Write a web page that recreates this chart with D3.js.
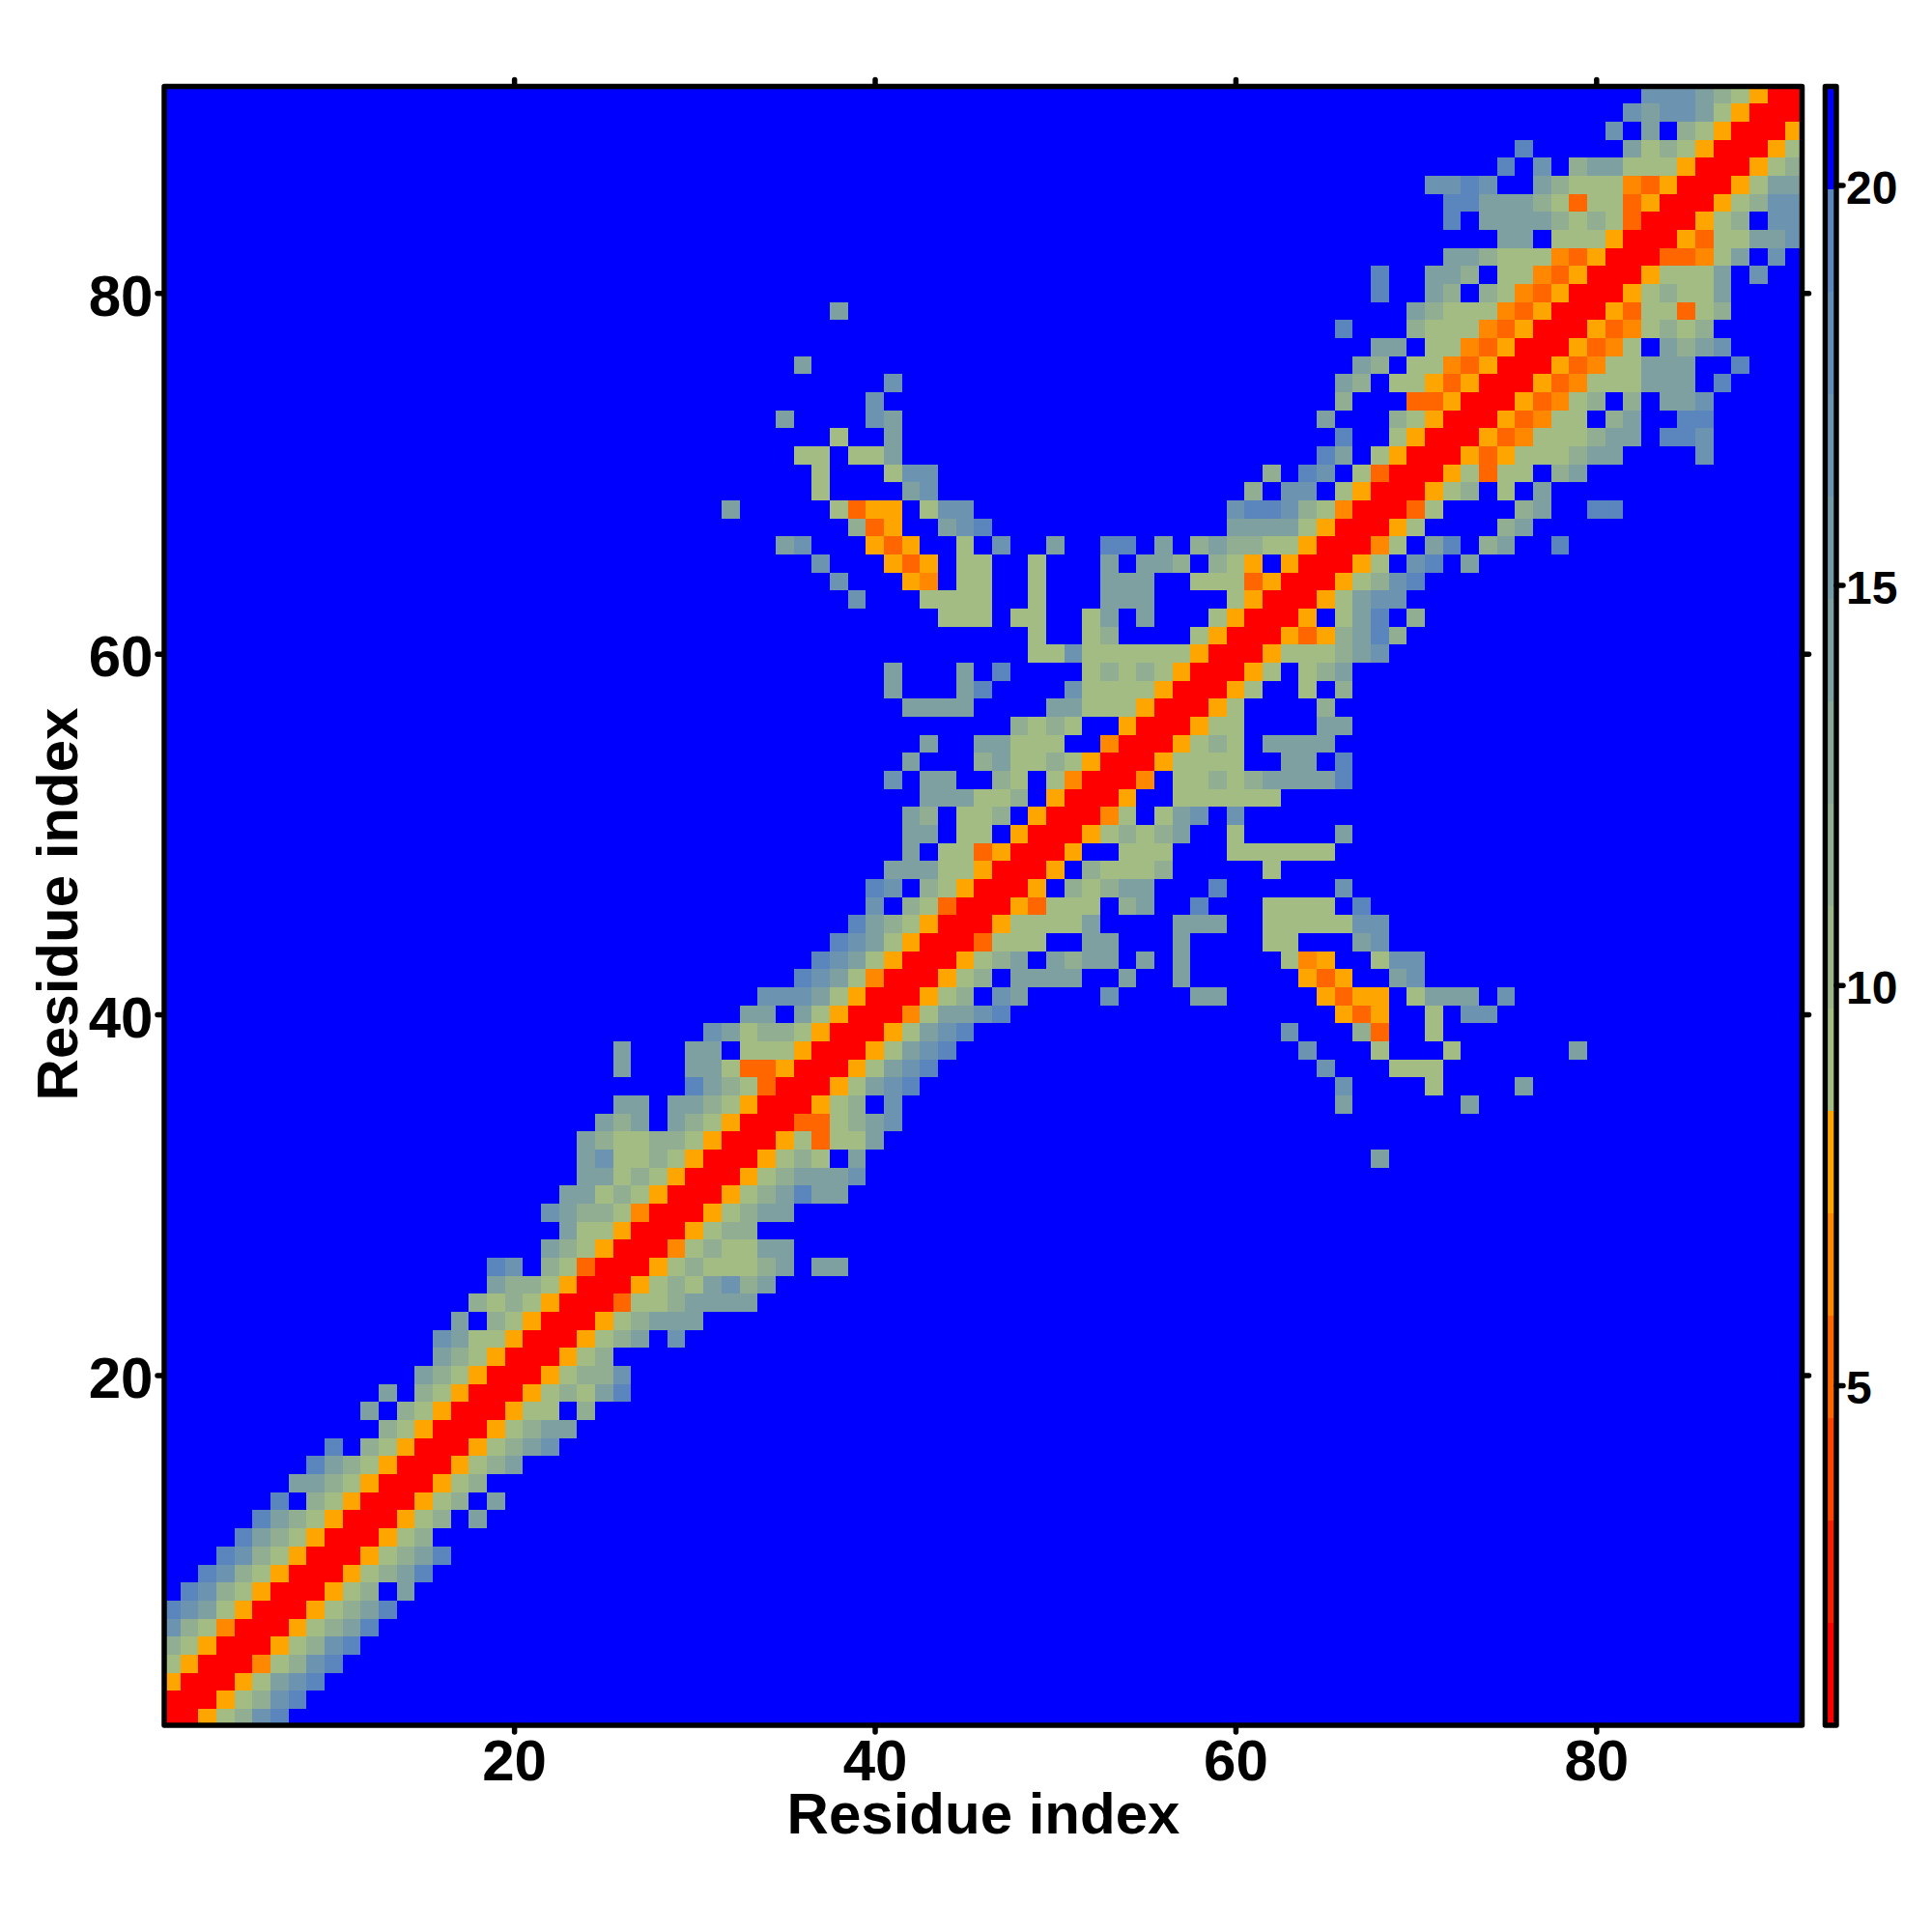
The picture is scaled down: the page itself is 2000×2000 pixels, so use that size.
<!DOCTYPE html>
<html><head><meta charset="utf-8">
<script src="https://cdn.jsdelivr.net/npm/d3@7"></script>
<style>html,body{margin:0;padding:0;background:#fff}svg{display:block}text{font-family:"Liberation Sans",Arial,sans-serif;font-weight:700;fill:#000}</style>
</head><body><div id="c"></div>
<script>
const residueCount = 91;
const xTicks = [20,40,60,80];
const yTicks = [20,40,60,80];
const colorTicks = [5,10,15,20];
const axisTitle = "Residue index";
// colour bins of the legend (lower edge of first bin, bin width)
const binEdges = [0.75,2.03,3.31,4.59,5.87,7.15,8.43,9.71,10.99,12.27,13.55,14.83,16.11,17.39,18.67,19.95,21.23];
const binColors = ["#ff0000","#f81e00","#ff4400","#ff6600","#ff8800","#ffa500","#a3bc83","#9ab58a","#91ae92","#88a799","#7ea0a0","#759aa7","#6c93af","#638cb6","#5a85bd","#0000ff"];
// estimated distance for each symbol used in the rows below
const codeValue = {r:1.4,d:5.2,o:6.5,a:7.8,"1":9.0,"2":11.5,"3":14.2,"4":17,"5":19.5,".":21};
// one string per residue i: symbols for columns i, i+1, ... (matrix is symmetric)
const bandRows = [
"rra1245","rra1245","rra1345","rro1245","rra1245","rra1235","rra1235","rra12.3","rra1235","rra1235",
"rra12","rra12.3","rra12.3","rra12","rra123","rra1234","rra1233","rra11.2","rra12135","rra1224",
"rra12","rra123.4","rra12333","rrd1123333","rra1213423","rra1211123.33","rro121133","rra122","rra1233","rra123533",
"rra123334","rra121.3","rra1d113","rrdd1234","rra12.4","rra1345","rra1345","rra1345","rra1345","rro13345",
"rra12.43","rra12.3333","rra123.323","rrd111..3","rra11113","rrad111.23..5...1111.5","rra.21233...5......4","rra.21112.....1","rra..111...111111","rra12123..1.....3",
"rro1.134.4","rra..111111","rro.1121233335","rra1111..33.5","rra121.3333","rra11....33","rra1....2","rra1..1.2","rra1.123","rra111234",
"rrada2352","rra.135.2","rra1344","rra1245","rra1.45.3","rro1.35.23..5","rra1....23","rrd1....23..55","rra12.1.3","rra1d11.23",
"rrada111233....4","rrado111233.554","rrado11.23..55","rrado12.2.334","rrado111333.5","rrado11333..5","rrado1.3234","rrado1212","rrad11d12","rra12113",
"rra1113.4","rrddo13.4","rrad11334","rra12.44","rra1244","rra133","rra12","rra1","rra","rr","r"];
// contacts far from the diagonal: row, column, symbol
const farContacts = [
[32,68,"3"],[35,66,"3"],[35,73,"3"],[36,66,"4"],[36,71,"1"],[36,76,"3"],[37,65,"4"],[37,69,"1"],[37,70,"1"],[37,71,"1"],
[38,64,"4"],[38,68,"1"],[38,72,"1"],[38,79,"3"],[39,63,"4"],[39,67,"2"],[39,68,"d"],[39,71,"1"],
[40,66,"a"],[40,67,"d"],[40,68,"a"],[40,71,"1"],[40,73,"4"],[40,74,"4"],
[41,53,"4"],[41,58,"3"],[41,59,"3"],[41,65,"a"],[41,66,"d"],[41,67,"a"],[41,68,"a"],[41,70,"1"],[41,71,"3"],[41,72,"3"],[41,73,"3"],[41,75,"4"],
[42,54,"3"],[42,57,"3"],[42,64,"a"],[42,65,"d"],[42,66,"a"],[42,69,"3"],[42,70,"4"],
[43,53,"3"],[43,55,"3"],[43,57,"3"],[43,63,"1"],[43,64,"o"],[43,65,"a"],[43,68,"1"],[43,69,"4"],[43,70,"4"],
[44,53,"3"],[44,57,"3"],[44,62,"1"],[44,63,"1"],[44,67,"3"],[44,68,"4"],
[45,57,"3"],[45,58,"3"],[45,59,"3"],[45,62,"1"],[45,63,"1"],[45,64,"1"],[45,65,"1"],[45,66,"1"],[45,67,"4"],[45,68,"4"]];

const margin = {left:170, right:1865.5, top:89.5, bottom:1786};
const svg = d3.select("#c").append("svg").attr("width",2000).attr("height",2000);
svg.append("rect").attr("width",2000).attr("height",2000).attr("fill","#fff");

const x = d3.scaleLinear().domain([1,residueCount]).range([177.4,1857.7]);
const y = d3.scaleLinear().domain([1,residueCount]).range([1778.2,97.9]);
const color = d3.scaleThreshold().domain(binEdges.slice(1,-1)).range(binColors);
const cby = d3.scaleLinear().domain([binEdges[0],binEdges[binEdges.length-1]]).range([margin.bottom,margin.top]);

// build symmetric matrix
const matrix = d3.range(residueCount).map(()=>new Array(residueCount).fill(codeValue["."]));
bandRows.forEach((s,i)=>{[...s].forEach((c,k)=>{const j=i+k; if(j<residueCount){matrix[i][j]=codeValue[c];matrix[j][i]=codeValue[c];}});});
farContacts.forEach(([r,c,s])=>{matrix[r-1][c-1]=codeValue[s];matrix[c-1][r-1]=codeValue[s];});
const cells=[];
matrix.forEach((row,i)=>row.forEach((v,j)=>cells.push({row:i+1,col:j+1,v})));

svg.append("defs").append("clipPath").attr("id","plot").append("rect")
  .attr("x",margin.left).attr("y",margin.top).attr("width",margin.right-margin.left).attr("height",margin.bottom-margin.top);

svg.append("g").attr("clip-path","url(#plot)").attr("shape-rendering","crispEdges")
  .selectAll("rect").data(cells).join("rect")
  .attr("x",d=>x(d.col-0.5)).attr("width",d=>x(d.col+0.5)-x(d.col-0.5))
  .attr("y",d=>y(d.row+0.5)).attr("height",d=>y(d.row-0.5)-y(d.row+0.5))
  .attr("fill",d=>color(d.v));

// frame
const frameW=5.5;
svg.append("rect").attr("x",margin.left).attr("y",margin.top).attr("width",margin.right-margin.left).attr("height",margin.bottom-margin.top)
  .attr("fill","none").attr("stroke","#000").attr("stroke-width",frameW).attr("stroke-linejoin","round");

function styleAxis(g){
  g.select(".domain").remove();
  g.selectAll("line").attr("stroke","#000").attr("stroke-width",5.5).attr("stroke-linecap","round");
}
const tickLen=7;
const bottomAxis=svg.append("g").attr("transform",`translate(0,${margin.bottom})`).call(d3.axisBottom(x).tickValues(xTicks).tickSize(tickLen).tickFormat(d3.format("d")));
styleAxis(bottomAxis);
bottomAxis.selectAll("text").attr("y",57).attr("dy",0).attr("font-size",60).attr("text-anchor","middle");
const topAxis=svg.append("g").attr("transform",`translate(0,${margin.top})`).call(d3.axisTop(x).tickValues(xTicks).tickSize(tickLen).tickFormat(""));
styleAxis(topAxis);
const leftAxis=svg.append("g").attr("transform",`translate(${margin.left},0)`).call(d3.axisLeft(y).tickValues(yTicks).tickSize(tickLen).tickFormat(d3.format("d")));
styleAxis(leftAxis);
leftAxis.selectAll("text").attr("x",-11.5).attr("dy",2.5).attr("dominant-baseline","central").attr("font-size",60).attr("text-anchor","end");
const rightAxis=svg.append("g").attr("transform",`translate(${margin.right},0)`).call(d3.axisRight(y).tickValues(yTicks).tickSize(tickLen).tickFormat(""));
styleAxis(rightAxis);

svg.append("text").attr("x",1018).attr("y",1898).attr("text-anchor","middle").attr("font-size",60).text(axisTitle);
svg.append("text").attr("transform","translate(80,936) rotate(-90)").attr("text-anchor","middle").attr("font-size",60).text(axisTitle);

// colour bar
const cbL=1889.4, cbR=1901;
svg.append("g").attr("shape-rendering","crispEdges").selectAll("rect").data(binColors).join("rect")
  .attr("x",cbL).attr("width",cbR-cbL)
  .attr("y",(d,i)=>cby(binEdges[i+1])).attr("height",(d,i)=>cby(binEdges[i])-cby(binEdges[i+1]))
  .attr("fill",d=>d);
svg.append("rect").attr("x",cbL).attr("y",margin.top).attr("width",cbR-cbL).attr("height",margin.bottom-margin.top)
  .attr("fill","none").attr("stroke","#000").attr("stroke-width",5.4).attr("stroke-linejoin","round");
const cbAxis=svg.append("g").attr("transform",`translate(${cbR},0)`).call(d3.axisRight(cby).tickValues(colorTicks).tickSize(7).tickFormat(d3.format("d")));
styleAxis(cbAxis);
cbAxis.selectAll("text").attr("x",10).attr("dy",2.5).attr("dominant-baseline","central").attr("font-size",48).attr("text-anchor","start");
</script></body></html>
